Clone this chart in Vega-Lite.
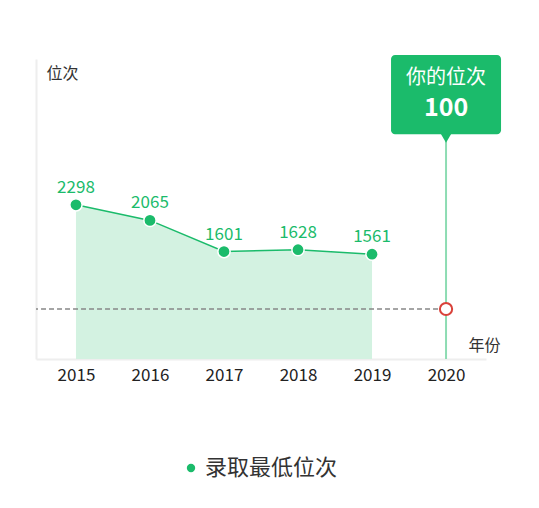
{
  "$schema": "https://vega.github.io/schema/vega-lite/v6.json",
  "autosize": {"type": "none"},
  "width": 450,
  "height": 300,
  "padding": {"left": 36, "top": 59, "right": 53, "bottom": 149},
  "background": "white",
  "config": {
    "font": "Noto Sans CJK SC",
    "view": {"stroke": null}
  },
  "datasets": {
    "scores": [
      {"year": "2015", "rank": 2298},
      {"year": "2016", "rank": 2065},
      {"year": "2017", "rank": 1601},
      {"year": "2018", "rank": 1628},
      {"year": "2019", "rank": 1561}
    ],
    "mine": [
      {"year": "2020", "rank": 100, "caption": "你的位次"}
    ]
  },
  "data": {"name": "scores"},
  "encoding": {
    "x": {
      "field": "year",
      "type": "ordinal",
      "scale": {"type": "point", "domain": ["2015", "2016", "2017", "2018", "2019", "2020"], "padding": 0.54},
      "axis": {
        "title": "年份",
        "titleX": 432,
        "titleY": -14,
        "titleAlign": "left",
        "titleBaseline": "middle",
        "titleFontSize": 16,
        "titleFontWeight": "normal",
        "titleColor": "#333333",
        "labelAngle": 0,
        "labelFontSize": 17,
        "labelColor": "#222222",
        "labelPadding": 8,
        "ticks": false,
        "grid": false,
        "domainColor": "#eeeeee",
        "domainWidth": 2
      }
    },
    "y": {
      "field": "rank",
      "type": "quantitative",
      "scale": {"domain": [0, 4470]},
      "axis": {
        "title": "位次",
        "titleAngle": 0,
        "titleX": 10,
        "titleY": 14,
        "titleAlign": "left",
        "titleBaseline": "middle",
        "titleFontSize": 16,
        "titleFontWeight": "normal",
        "titleColor": "#333333",
        "labels": false,
        "ticks": false,
        "grid": false,
        "domainColor": "#eeeeee",
        "domainWidth": 2
      }
    }
  },
  "layer": [
    {
      "mark": {"type": "area", "color": "#d3f2e1"}
    },
    {
      "data": {"name": "mine"},
      "mark": {"type": "rule", "color": "#888888", "strokeWidth": 1.5, "strokeDash": [5, 3]},
      "encoding": {
        "x2": {"value": 0},
        "y": {"datum": 745, "type": "quantitative"}
      }
    },
    {
      "data": {"name": "mine"},
      "mark": {"type": "rule", "color": "#8ddcb3", "strokeWidth": 2},
      "encoding": {
        "y": {"datum": 0, "type": "quantitative"},
        "y2": {"datum": 3380}
      }
    },
    {
      "mark": {"type": "line", "color": "#1bbb6b", "strokeWidth": 1.5}
    },
    {
      "mark": {"type": "point", "filled": true, "size": 150, "stroke": "white", "strokeWidth": 1.5, "opacity": 1},
      "encoding": {
        "color": {
          "datum": "录取最低位次",
          "scale": {"domain": ["录取最低位次"], "range": ["#1bbb6b"]},
          "legend": {
            "title": null,
            "orient": "none",
            "legendX": 144,
            "legendY": 398,
            "symbolType": "circle",
            "symbolSize": 70,
            "symbolStrokeWidth": 0,
            "labelFontSize": 22,
            "labelColor": "#333333",
            "labelOffset": 3
          }
        }
      }
    },
    {
      "mark": {"type": "text", "color": "#1bbb6b", "fontSize": 17, "baseline": "bottom", "dy": -8},
      "encoding": {
        "text": {"field": "rank", "type": "quantitative"}
      }
    },
    {
      "data": {"name": "mine"},
      "mark": {"type": "point", "filled": false, "fill": "white", "stroke": "#d9423a", "strokeWidth": 2, "size": 150, "opacity": 1},
      "encoding": {
        "y": {"datum": 745, "type": "quantitative"}
      }
    },
    {
      "data": {"name": "mine"},
      "mark": {"type": "bar", "width": 110, "cornerRadius": 4, "color": "#1bbb6b"},
      "encoding": {
        "y": {"datum": 3350, "type": "quantitative"},
        "y2": {"datum": 4530}
      }
    },
    {
      "data": {"name": "mine"},
      "mark": {"type": "point", "shape": "triangle-down", "filled": true, "color": "#1bbb6b", "size": 110, "opacity": 1},
      "encoding": {
        "y": {"datum": 3290, "type": "quantitative"}
      }
    },
    {
      "data": {"name": "mine"},
      "mark": {"type": "text", "color": "white", "fontSize": 20, "baseline": "middle"},
      "encoding": {
        "y": {"datum": 4185, "type": "quantitative"},
        "text": {"field": "caption"}
      }
    },
    {
      "data": {"name": "mine"},
      "mark": {"type": "text", "color": "white", "fontSize": 25, "fontWeight": "bold", "baseline": "middle"},
      "encoding": {
        "y": {"datum": 3740, "type": "quantitative"},
        "text": {"field": "rank", "type": "quantitative"}
      }
    }
  ]
}
